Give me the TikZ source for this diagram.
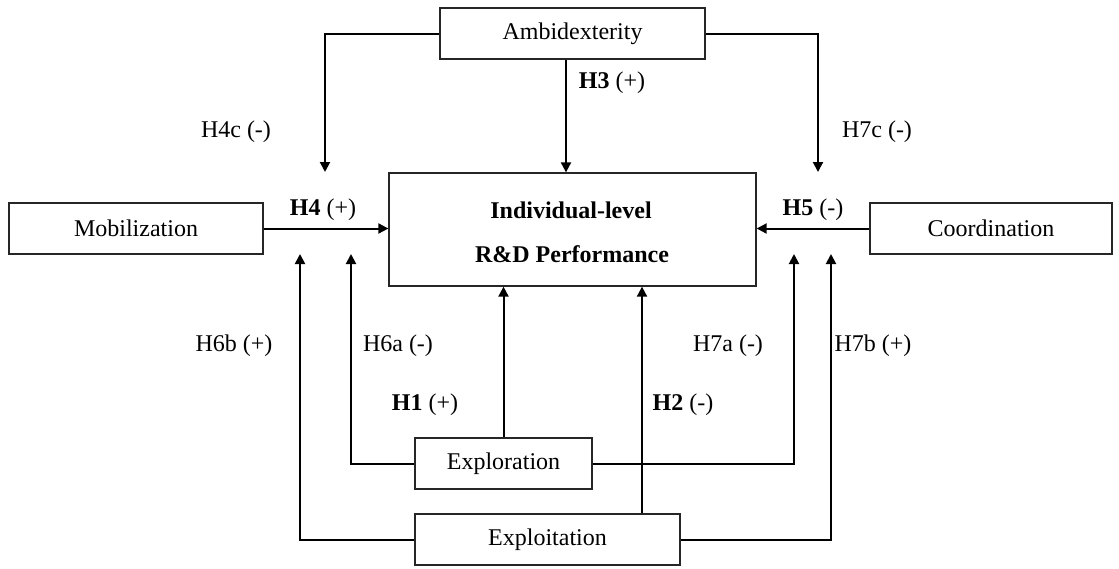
\documentclass[tikz,border=0pt]{standalone}
\usepackage{fontspec}
\setmainfont{Liberation Serif}
\usetikzlibrary{arrows.meta}
\begin{document}
\begin{tikzpicture}[x=1pt,y=-1pt,
  box/.style={draw=black!85,line width=1.3pt,rectangle,inner sep=0pt,font=\fontsize{24}{28}\selectfont},
  lbl/.style={inner sep=0pt,font=\fontsize{24}{28}\selectfont},
  conn/.style={line width=2pt,draw=black},
  arr/.style={conn,-{Triangle[length=10pt,width=10pt]}}]
\useasboundingbox (0,0) rectangle (1119,568);
% boxes
\node[box,minimum width=265pt,minimum height=51pt] (amb) at (572.5,33.5) {Ambidexterity};
\node[box,minimum width=367pt,minimum height=113pt] (perf) at (572.5,229.5) {};
\node[lbl,font=\fontsize{24}{28}\selectfont\bfseries] (perf1) at (571,210) {Individual-level};
\node[lbl,font=\fontsize{24}{28}\selectfont\bfseries] (perf2) at (572,254) {R\&D Performance};
\node[box,minimum width=254pt,minimum height=51pt] (mob) at (136,228.5) {Mobilization};
\node[box,minimum width=242pt,minimum height=51pt] (coord) at (991,228.5) {Coordination};
\node[box,minimum width=177pt,minimum height=51pt] (explor) at (503.5,463.5) {Exploration};
\node[box,minimum width=265pt,minimum height=51pt] (exploit) at (547.5,539.5) {Exploitation};
% free ends
\coordinate (xm) at (566,0);
\coordinate (xh2) at (642,0);
\coordinate (h4c) at (325,172);
\coordinate (h7c) at (818,172);
\coordinate (h6a) at (351,254);
\coordinate (h6b) at (300,254);
\coordinate (h7a) at (794,254);
\coordinate (h7b) at (831,254);
% connectors
\draw[arr] (amb.south -| xm) -- (perf.north -| xm);
\draw[arr] (amb.west) -| (h4c);
\draw[arr] (amb.east) -| (h7c);
\draw[arr] (mob.east) -- (mob.east -| perf.west);
\draw[arr] (coord.west) -- (coord.west -| perf.east);
\draw[arr] (explor.north) -- (explor.north |- perf.south);
\draw[arr] (exploit.north -| xh2) -- (perf.south -| xh2);
\draw[arr] (explor.west) -| (h6a);
\draw[arr] (explor.east) -| (h7a);
\draw[arr] (exploit.west) -| (h6b);
\draw[arr] (exploit.east) -| (h7b);
% labels
\node[lbl] (l3) at (612,83) {\textbf{H3} (+)};
\node[lbl] (l4c) at (236,132) {H4c (-)};
\node[lbl] (l7c) at (877,132) {H7c (-)};
\node[lbl] (l4) at (323,210) {\textbf{H4} (+)};
\node[lbl] (l5) at (813,210) {\textbf{H5} (-)};
\node[lbl] (l6b) at (234,346) {H6b (+)};
\node[lbl] (l6a) at (398,346) {H6a (-)};
\node[lbl] (l7a) at (728,346) {H7a (-)};
\node[lbl] (l7b) at (873,346) {H7b (+)};
\node[lbl] (l1) at (425,405) {\textbf{H1} (+)};
\node[lbl] (l2) at (683,405) {\textbf{H2} (-)};
\end{tikzpicture}
\end{document}
